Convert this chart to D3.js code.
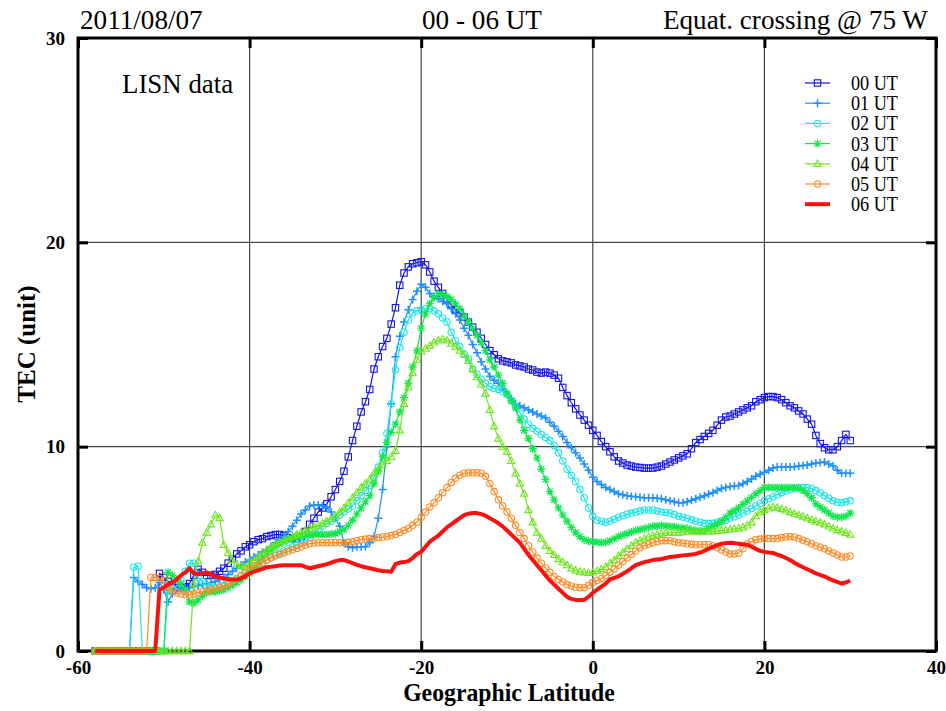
<!DOCTYPE html>
<html><head><meta charset="utf-8">
<script src="https://cdn.jsdelivr.net/npm/d3@7"></script>
<style>body{margin:0;background:#fff}svg{display:block}</style>
</head><body>
<script>
// ---------------- DATA (latitude step 0.5 deg, -58 .. 30) ----------------
const latitudes = [
 -58,-57.5,-57,-56.5,-56,-55.5,-55,-54.5,-54,-53.5,
 -53,-52.5,-52,-51.5,-51,-50.5,-50,-49.5,-49,-48.5,
 -48,-47.5,-47,-46.5,-46,-45.5,-45,-44.5,-44,-43.5,
 -43,-42.5,-42,-41.5,-41,-40.5,-40,-39.5,-39,-38.5,
 -38,-37.5,-37,-36.5,-36,-35.5,-35,-34.5,-34,-33.5,
 -33,-32.5,-32,-31.5,-31,-30.5,-30,-29.5,-29,-28.5,
 -28,-27.5,-27,-26.5,-26,-25.5,-25,-24.5,-24,-23.5,
 -23,-22.5,-22,-21.5,-21,-20.5,-20,-19.5,-19,-18.5,
 -18,-17.5,-17,-16.5,-16,-15.5,-15,-14.5,-14,-13.5,
 -13,-12.5,-12,-11.5,-11,-10.5,-10,-9.5,-9,-8.5,
 -8,-7.5,-7,-6.5,-6,-5.5,-5,-4.5,-4,-3.5,
 -3,-2.5,-2,-1.5,-1,-0.5,0,0.5,1,1.5,
 2,2.5,3,3.5,4,4.5,5,5.5,6,6.5,
 7,7.5,8,8.5,9,9.5,10,10.5,11,11.5,
 12,12.5,13,13.5,14,14.5,15,15.5,16,16.5,
 17,17.5,18,18.5,19,19.5,20,20.5,21,21.5,
 22,22.5,23,23.5,24,24.5,25,25.5,26,26.5,
 27,27.5,28,28.5,29,29.5,30];

const tec00 = [
 0,0,0,0,0,0,0,0,0,0,
 0,0,0,0,0,3.8,3.6,3.4,3.25,3.1,
 3.1,3.15,3.3,3.7,4.0,3.85,3.7,3.7,3.75,3.9,
 4.05,4.3,4.5,4.75,4.9,5.1,5.2,5.35,5.45,5.5,
 5.6,5.65,5.7,5.7,5.65,5.55,5.5,5.5,5.6,5.85,
 6.2,6.5,6.8,7.0,7.2,7.55,7.9,8.3,8.8,9.5,
 10.3,11.0,11.7,12.2,12.8,13.8,14.4,14.9,15.3,16.0,
 16.8,17.9,18.5,18.8,18.95,19.0,19.05,18.9,18.55,18.1,
 17.8,17.5,17.2,16.95,16.7,16.55,16.35,16.1,15.85,15.6,
 15.3,15.0,14.7,14.5,14.3,14.2,14.15,14.1,14.0,13.95,
 13.9,13.8,13.75,13.65,13.6,13.65,13.6,13.5,13.35,12.9,
 12.5,12.15,11.85,11.55,11.3,11.05,10.8,10.55,10.25,10.0,
 9.75,9.5,9.3,9.2,9.1,9.05,9.0,8.98,8.95,8.95,
 8.95,9.0,9.05,9.15,9.25,9.35,9.45,9.55,9.65,9.9,
 10.2,10.35,10.5,10.65,10.8,11.05,11.3,11.45,11.5,11.6,
 11.7,11.8,11.9,12.0,12.2,12.3,12.4,12.45,12.45,12.4,
 12.3,12.15,12.0,11.9,11.75,11.6,11.35,11.1,10.55,10.15,
 9.95,9.85,9.85,10.0,10.3,10.6,10.3];

const tec01 = [
 0,0,0,0,0,0,0,0,0,3.6,
 3.4,3.25,3.1,3.05,3.1,3.35,3.0,2.4,2.8,3.0,
 3.05,3.1,3.1,3.15,3.2,3.25,3.3,3.35,3.4,3.5,
 3.6,3.75,3.9,4.05,4.2,4.35,4.45,4.6,4.7,4.85,
 4.95,5.1,5.3,5.45,5.6,5.85,6.1,6.4,6.7,6.9,
 7.1,7.15,7.15,7.1,7.0,6.8,6.5,6.1,5.3,5.1,
 5.05,5.1,5.1,5.1,5.3,5.6,6.5,7.9,10.0,12.1,
 14.4,15.4,16.1,16.7,17.2,17.6,17.95,17.8,17.5,17.35,
 17.25,17.1,17.0,16.75,16.5,16.2,15.8,15.45,15.0,14.6,
 14.15,13.8,13.45,13.25,13.1,12.85,12.6,12.35,12.1,12.0,
 11.9,11.8,11.7,11.6,11.5,11.4,11.2,11.0,10.75,10.5,
 10.2,9.95,9.7,9.45,9.15,8.85,8.5,8.3,8.15,8.0,
 7.9,7.8,7.7,7.65,7.6,7.57,7.55,7.52,7.5,7.5,
 7.5,7.47,7.45,7.4,7.35,7.3,7.25,7.25,7.3,7.38,
 7.45,7.52,7.6,7.68,7.75,7.85,7.95,8.0,8.05,8.08,
 8.1,8.2,8.3,8.42,8.55,8.65,8.75,8.85,8.95,9.0,
 9.0,9.0,9.0,9.02,9.05,9.08,9.1,9.15,9.2,9.22,
 9.25,9.15,9.05,8.85,8.7,8.7,8.7];

const tec02 = [
 0,0,0,0,0,0,0,0,0,4.1,
 4.15,0,0,0,0,0,0,3.0,3.05,3.2,
 3.5,3.9,4.3,4.3,3.6,3.4,3.2,3.15,3.1,3.15,
 3.2,3.3,3.4,3.5,3.65,3.8,3.9,4.05,4.2,4.3,
 4.45,4.6,4.7,4.8,4.9,5.0,5.1,5.2,5.3,5.4,
 5.55,5.75,5.95,6.1,6.25,6.35,6.5,6.65,6.8,6.95,
 7.1,7.35,7.6,7.85,8.1,8.5,9.0,9.7,10.65,12.1,
 13.75,14.85,15.6,16.2,16.55,16.65,16.7,16.75,16.75,16.65,
 16.5,16.3,16.1,15.6,15.2,14.9,14.55,14.3,13.8,13.55,
 13.3,13.1,12.95,12.85,12.8,12.7,12.55,12.25,11.95,11.65,
 11.35,11.1,10.9,10.75,10.6,10.45,10.3,10.05,9.7,9.3,
 8.9,8.6,8.3,7.9,7.5,7.0,6.6,6.4,6.35,6.3,
 6.35,6.45,6.55,6.62,6.7,6.75,6.8,6.85,6.9,6.9,
 6.9,6.85,6.8,6.78,6.75,6.68,6.6,6.55,6.5,6.42,
 6.35,6.3,6.25,6.25,6.25,6.3,6.35,6.4,6.5,6.57,
 6.65,6.75,6.85,6.97,7.1,7.22,7.35,7.45,7.55,7.65,
 7.75,7.82,7.9,7.95,8.0,8.0,8.0,7.95,7.85,7.75,
 7.6,7.48,7.35,7.28,7.25,7.3,7.35];

const tec03 = [
 0,0,0,0,0,0,0,0,0,0,
 0,0,0,0,0,0,0,3.85,3.7,3.5,
 3.3,3.0,2.4,2.35,2.5,2.7,2.85,2.9,2.9,2.95,
 3.0,3.1,3.2,3.35,3.5,3.65,3.8,4.05,4.3,4.55,
 4.8,4.95,5.1,5.25,5.35,5.45,5.5,5.6,5.65,5.7,
 5.7,5.7,5.7,5.7,5.7,5.72,5.75,5.85,5.95,6.15,
 6.4,6.7,7.0,7.3,7.6,8.2,8.8,9.5,10.2,10.7,
 11.1,11.7,12.4,13.1,13.9,14.7,15.8,16.5,17.0,17.3,
 17.5,17.45,17.35,17.2,17.0,16.75,16.4,16.1,15.8,15.45,
 15.1,14.7,14.25,13.9,13.5,13.1,12.6,12.25,11.9,11.3,
 10.8,10.4,9.9,9.45,8.9,8.4,7.8,7.4,7.0,6.65,
 6.35,6.05,5.8,5.6,5.45,5.38,5.35,5.32,5.3,5.32,
 5.4,5.5,5.6,5.68,5.75,5.82,5.9,5.95,6.0,6.05,
 6.1,6.12,6.15,6.12,6.1,6.08,6.05,6.02,6.0,5.95,
 5.9,5.85,5.9,6.0,6.1,6.22,6.35,6.55,6.75,6.88,
 7.0,7.18,7.35,7.52,7.7,7.85,8.0,8.0,8.0,8.0,
 8.0,8.0,8.0,8.0,7.95,7.85,7.7,7.5,7.2,7.05,
 6.9,6.75,6.6,6.55,6.55,6.6,6.75];

const tec04 = [
 0,0,0,0,0,0,0,0,0,0,
 0,0,0,0,0,0,0,0,0,0,
 0,0,0,3.3,4.4,5.3,5.8,6.2,6.65,6.5,
 5.2,4.8,4.45,4.25,4.15,4.1,4.3,4.45,4.6,4.8,
 4.95,5.1,5.2,5.3,5.4,5.5,5.6,5.7,5.8,5.9,
 6.0,6.1,6.15,6.25,6.35,6.45,6.6,6.8,7.0,7.25,
 7.5,7.75,8.0,8.2,8.4,8.7,8.9,9.1,9.3,9.5,
 9.8,10.8,12.1,12.9,13.6,14.25,14.65,14.8,14.95,15.1,
 15.2,15.25,15.2,15.05,14.9,14.7,14.5,14.2,13.8,13.4,
 13.05,12.6,11.8,11.0,10.4,10.0,9.75,9.3,8.7,8.2,
 7.7,6.9,6.3,5.8,5.5,5.15,4.9,4.7,4.5,4.35,
 4.2,4.05,3.95,3.88,3.85,3.82,3.85,3.92,4.0,4.12,
 4.3,4.45,4.65,4.82,5.0,5.15,5.3,5.4,5.5,5.58,
 5.65,5.7,5.75,5.78,5.8,5.8,5.8,5.82,5.85,5.85,
 5.85,5.85,5.85,5.85,5.85,5.88,5.9,5.92,5.95,5.98,
 6.0,6.05,6.15,6.3,6.6,6.8,6.9,6.98,7.05,7.02,
 6.95,6.88,6.8,6.72,6.65,6.58,6.5,6.42,6.35,6.28,
 6.2,6.1,6.0,5.92,5.85,5.78,5.7];

const tec05 = [
 0,0,0,0,0,0,0,0,0,0,
 0,0,0,3.6,3.6,3.55,3.45,3.1,2.95,2.85,
 2.8,2.75,2.75,2.8,2.85,2.9,2.95,3.0,3.05,3.1,
 3.15,3.25,3.4,3.55,3.7,3.85,4.0,4.15,4.25,4.35,
 4.45,4.55,4.65,4.72,4.8,4.88,4.95,5.02,5.1,5.18,
 5.25,5.28,5.3,5.3,5.3,5.3,5.3,5.3,5.3,5.32,
 5.35,5.4,5.45,5.48,5.5,5.52,5.55,5.58,5.6,5.65,
 5.7,5.8,5.9,6.0,6.15,6.3,6.55,6.8,7.05,7.25,
 7.5,7.75,8.0,8.25,8.45,8.6,8.7,8.72,8.72,8.72,
 8.7,8.55,8.2,7.8,7.4,7.1,6.8,6.5,6.15,5.8,
 5.5,5.15,4.85,4.55,4.3,4.05,3.85,3.65,3.5,3.38,
 3.25,3.18,3.12,3.1,3.1,3.2,3.35,3.45,3.55,3.7,
 3.85,4.02,4.2,4.38,4.55,4.72,4.9,5.05,5.15,5.22,
 5.3,5.35,5.4,5.4,5.4,5.35,5.3,5.28,5.25,5.22,
 5.2,5.2,5.2,5.2,5.15,5.05,4.95,4.85,4.75,4.75,
 4.8,5.0,5.25,5.35,5.45,5.48,5.5,5.5,5.5,5.5,
 5.55,5.58,5.6,5.58,5.5,5.42,5.35,5.25,5.15,5.08,
 5.0,4.9,4.8,4.7,4.6,4.6,4.65];

const tec06 = [
 0,0,0,0,0,0,0,0,0,0,
 0,0,0,0,0,3.0,3.1,3.25,3.35,3.5,
 3.7,3.85,4.05,3.8,3.75,3.8,3.85,3.75,3.65,3.6,
 3.55,3.52,3.5,3.5,3.55,3.65,3.8,3.88,3.95,4.02,
 4.1,4.12,4.15,4.18,4.2,4.2,4.2,4.2,4.2,4.12,
 4.05,4.1,4.15,4.2,4.25,4.32,4.4,4.45,4.45,4.38,
 4.3,4.22,4.15,4.1,4.05,4.0,3.95,3.92,3.9,3.88,
 4.25,4.33,4.35,4.4,4.55,4.75,4.85,5.1,5.35,5.5,
 5.65,5.85,6.05,6.2,6.35,6.5,6.65,6.72,6.75,6.75,
 6.7,6.62,6.5,6.38,6.25,6.1,5.9,5.7,5.5,5.3,
 5.0,4.7,4.45,4.2,3.95,3.7,3.45,3.25,3.05,2.85,
 2.65,2.55,2.5,2.5,2.5,2.65,2.85,3.0,3.15,3.3,
 3.5,3.58,3.65,3.78,3.9,4.05,4.2,4.28,4.35,4.4,
 4.45,4.48,4.5,4.55,4.6,4.62,4.65,4.68,4.7,4.72,
 4.75,4.82,4.9,5.0,5.1,5.18,5.25,5.28,5.3,5.28,
 5.25,5.22,5.2,5.1,5.0,4.9,4.85,4.82,4.8,4.72,
 4.65,4.55,4.45,4.32,4.2,4.1,4.0,3.9,3.8,3.72,
 3.65,3.55,3.45,3.38,3.3,3.35,3.45];

const seriesNames = ["00 UT","01 UT","02 UT","03 UT","04 UT","05 UT","06 UT"];
const xTicks = [-60,-40,-20,0,20,40];
const yTicks = [0,10,20,30];
const titleLeft = "2011/08/07", titleCenter = "00 - 06 UT", titleRight = "Equat. crossing @ 75 W";
const xLabel = "Geographic Latitude", yLabel = "TEC (unit)", noteText = "LISN data";

// ---------------- STYLE ----------------
const seriesStyle = [
  {values: tec00, color: "#1414e6", marker: "square",   lw: 1.2},
  {values: tec01, color: "#1e90ff", marker: "plus",     lw: 1.2},
  {values: tec02, color: "#1ee6e6", marker: "circle",   lw: 1.2},
  {values: tec03, color: "#14e650", marker: "asterisk", lw: 1.2},
  {values: tec04, color: "#6ee61e", marker: "triangle", lw: 1.2},
  {values: tec05, color: "#ff8c28", marker: "circle",   lw: 1.2},
  {values: tec06, color: "#ff1010", marker: null,       lw: 4}
];

const W = 946, H = 711;
const svg = d3.select("body").append("svg").attr("width", W).attr("height", H);
const x = d3.scaleLinear().domain([-60, 40]).range([78, 936]);
const y = d3.scaleLinear().domain([0, 30]).range([651, 38]);
const serif = "'Liberation Serif','Times New Roman',serif";

// grid
const grid = svg.append("g");
grid.selectAll("line.vx").data(xTicks.filter(d => d > -60 && d < 40)).join("line")
  .attr("x1", d => x(d)).attr("x2", d => x(d)).attr("y1", y(0)).attr("y2", y(30))
  .attr("stroke", "#444").attr("stroke-width", 1.2);
grid.selectAll("line.hy").data(yTicks.filter(d => d > 0 && d < 30)).join("line")
  .attr("x1", x(-60)).attr("x2", x(40)).attr("y1", d => y(d)).attr("y2", d => y(d))
  .attr("stroke", "#444").attr("stroke-width", 1.2);

// axes
const fmt = d => String(d);
function styleAxis(g, labels) {
  g.select(".domain").remove();
  g.selectAll(".tick line").attr("stroke", "#000").attr("stroke-width", 3);
  if (!labels) g.selectAll(".tick text").remove();
  else g.selectAll(".tick text").attr("font-family", serif).attr("font-weight", "bold")
        .attr("font-size", 19).attr("fill", "#000");
}
svg.append("g").attr("transform", `translate(0,${y(0)})`)
  .call(d3.axisBottom(x).tickValues(xTicks).tickFormat(fmt).tickSize(-10).tickPadding(10))
  .call(g => styleAxis(g, true));
svg.append("g").attr("transform", `translate(0,${y(30)})`)
  .call(d3.axisTop(x).tickValues(xTicks).tickSize(-10))
  .call(g => styleAxis(g, false));
svg.append("g").attr("transform", `translate(${x(-60)},0)`)
  .call(d3.axisLeft(y).tickValues(yTicks).tickFormat(fmt).tickSize(-10).tickPadding(13))
  .call(g => styleAxis(g, true));
svg.append("g").attr("transform", `translate(${x(40)},0)`)
  .call(d3.axisRight(y).tickValues(yTicks).tickSize(-10))
  .call(g => styleAxis(g, false));

// frame
svg.append("rect").attr("x", x(-60)).attr("y", y(30))
  .attr("width", x(40) - x(-60)).attr("height", y(0) - y(30))
  .attr("fill", "none").attr("stroke", "#000").attr("stroke-width", 3);

// markers
function drawMarker(g, type, cx, cy, color) {
  const s = 3.2;
  if (type === "square") {
    g.append("rect").attr("x", cx - s).attr("y", cy - s).attr("width", 2 * s).attr("height", 2 * s)
      .attr("fill", "none").attr("stroke", color).attr("stroke-width", 1.1);
  } else if (type === "circle") {
    g.append("circle").attr("cx", cx).attr("cy", cy).attr("r", s)
      .attr("fill", "none").attr("stroke", color).attr("stroke-width", 1.1);
  } else if (type === "plus") {
    g.append("path").attr("d", `M${cx - 4},${cy}H${cx + 4}M${cx},${cy - 4}V${cy + 4}`)
      .attr("stroke", color).attr("stroke-width", 1.5);
  } else if (type === "asterisk") {
    const a = 3;
    g.append("path").attr("d", `M${cx - 4},${cy}H${cx + 4}M${cx},${cy - 4}V${cy + 4}M${cx - a},${cy - a}L${cx + a},${cy + a}M${cx - a},${cy + a}L${cx + a},${cy - a}`)
      .attr("stroke", color).attr("stroke-width", 1.3);
  } else if (type === "triangle") {
    g.append("path").attr("d", `M${cx},${cy - 3.8}L${cx + 3.6},${cy + 2.6}L${cx - 3.6},${cy + 2.6}Z`)
      .attr("fill", "none").attr("stroke", color).attr("stroke-width", 1.1);
  }
}

// series
const line = d3.line().x(d => x(d[0])).y(d => y(d[1]));
seriesStyle.forEach(s => {
  const pts = latitudes.map((lat, i) => [lat, s.values[i]]);
  const g = svg.append("g");
  g.append("path").attr("d", line(pts)).attr("fill", "none").attr("stroke", s.color)
    .attr("stroke-width", s.lw).attr("stroke-linejoin", "round");
  if (s.marker) pts.forEach(p => drawMarker(g, s.marker, x(p[0]), y(p[1]), s.color));
});

// condensed text helper
function ctext(str, px, py, size, anchor, weight, sx) {
  return svg.append("text").attr("transform", `translate(${px},${py}) scale(${sx},1)`)
    .attr("font-family", serif).attr("font-size", size).attr("font-weight", weight || "normal")
    .attr("text-anchor", anchor).attr("fill", "#000").text(str);
}

// legend
const lg = svg.append("g");
seriesStyle.forEach((s, i) => {
  const ly = 83 + i * 20.2;
  lg.append("line").attr("x1", 805).attr("x2", 830).attr("y1", ly).attr("y2", ly)
    .attr("stroke", s.color).attr("stroke-width", s.lw);
  if (s.marker) drawMarker(lg, s.marker, 817.5, ly, s.color);
  ctext(seriesNames[i], 851, ly + 7, 20, "start", "normal", 0.91);
});

// titles
ctext(titleLeft, 80, 29, 28, "start", "normal", 0.97);
ctext(titleCenter, 482, 29, 28, "middle", "normal", 0.97);
ctext(titleRight, 928, 29, 28, "end", "normal", 0.97);
ctext(noteText, 122, 93, 28, "start", "normal", 0.96);
ctext(xLabel, 509, 701, 25, "middle", "bold", 0.95);
svg.append("text").attr("transform", `translate(35,344) rotate(-90)`)
  .attr("font-family", serif).attr("font-size", 25).attr("font-weight", "bold")
  .attr("text-anchor", "middle").attr("fill", "#000").text(yLabel);
</script>
</body></html>
